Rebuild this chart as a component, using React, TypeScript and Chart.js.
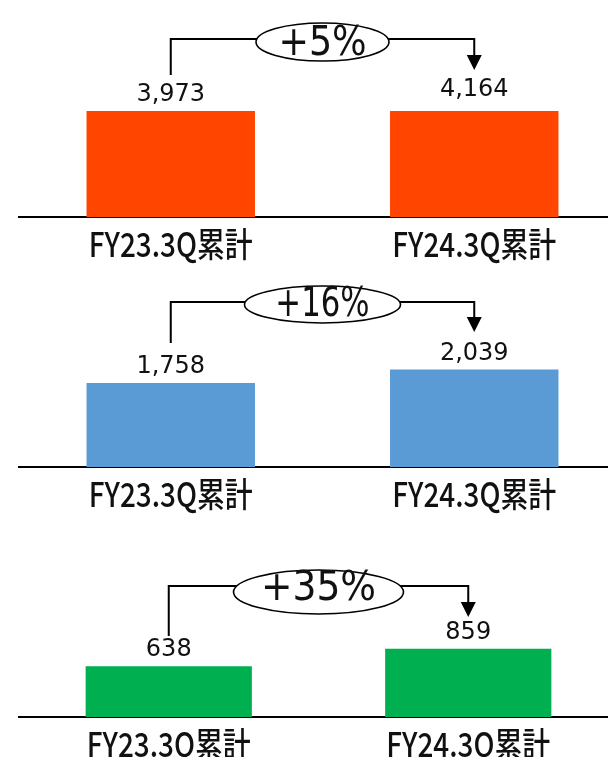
import { useEffect, useRef } from "react";
import { Chart, registerables } from "chart.js";

Chart.register(...registerables);

// Periods compared in every panel
const categories = ["FY23.3Q累計", "FY24.3Q累計"];

// Values per panel (top, middle, bottom)
const upperValues = [3973, 4164];
const middleValues = [1758, 2039];
const lowerValues = [638, 859];

// Year-on-year growth shown in the callout ovals
const growthLabels = ["+5%", "+16%", "+35%"];

// Value-axis ceilings; the top panel is cut at the first bar
const axisMaxima = [3973, 2218, 1332];

const barColors = ["#FF4500", "#5B9BD5", "#00B050"];

type Decor = {
  growth: string;
  bracketY: number;
  leftEnd: number;
  tipY: number;
  rx: number;
  ry: number;
  ellipseDy: number;
  textDy: number;
  textStretch: number;
};

// Draws value labels, category labels and the growth bracket with its oval
const growthDecor = {
  id: "growthDecor",
  afterDraw(chart: any, _args: any, opts: Decor) {
    const { ctx, chartArea } = chart;
    const meta = chart.getDatasetMeta(0);
    const yScale = chart.scales.y;
    const values = chart.data.datasets[0].data as number[];
    const xs: number[] = meta.data.map((b: any) => b.x);

    ctx.save();
    ctx.fillStyle = "#111";
    ctx.textAlign = "center";

    // value labels above each bar
    ctx.font = "24px 'DejaVu Sans'";
    ctx.textBaseline = "middle";
    values.forEach((v, i) => {
      ctx.fillText(v.toLocaleString("en-US"), xs[i], yScale.getPixelForValue(v) - 16);
    });

    // category labels under the baseline (narrow gothic look)
    ctx.font = "500 34px 'Noto Sans CJK JP'";
    (chart.data.labels as string[]).forEach((lab, i) => {
      ctx.save();
      ctx.translate(xs[i], chartArea.bottom + 27);
      ctx.scale(0.82, 1);
      ctx.fillText(lab, 0, 0);
      ctx.restore();
    });

    // bracket from the first bar to the second one
    const x0 = xs[0];
    const x1 = xs[1];
    const cx = (x0 + x1) / 2;
    ctx.strokeStyle = "#000";
    ctx.lineWidth = 2;
    ctx.lineJoin = "miter";
    ctx.lineCap = "butt";
    ctx.beginPath();
    ctx.moveTo(x0, opts.leftEnd);
    ctx.lineTo(x0, opts.bracketY);
    ctx.lineTo(x1, opts.bracketY);
    ctx.lineTo(x1, opts.tipY - 12);
    ctx.stroke();

    // arrow head
    ctx.fillStyle = "#000";
    ctx.beginPath();
    ctx.moveTo(x1 - 7.5, opts.tipY - 15);
    ctx.lineTo(x1 + 7.5, opts.tipY - 15);
    ctx.lineTo(x1, opts.tipY);
    ctx.closePath();
    ctx.fill();

    // oval with the growth rate
    ctx.beginPath();
    ctx.ellipse(cx, opts.bracketY + opts.ellipseDy, opts.rx, opts.ry, 0, 0, Math.PI * 2);
    ctx.fillStyle = "#fff";
    ctx.fill();
    ctx.lineWidth = 1.6;
    ctx.stroke();

    ctx.fillStyle = "#111";
    ctx.font = "40px 'DejaVu Sans'";
    ctx.textBaseline = "alphabetic";
    ctx.save();
    ctx.translate(cx, opts.bracketY + opts.textDy);
    ctx.scale(opts.textStretch, 1);
    ctx.fillText(opts.growth, 0, 0);
    ctx.restore();

    ctx.restore();
  },
};

type PanelSpec = {
  values: number[];
  color: string;
  max: number;
  top: number;
  height: number;
  padRight: number;
  padBottom: number;
  decor: Decor;
};

const panels: PanelSpec[] = [
  {
    values: upperValues,
    color: barColors[0],
    max: axisMaxima[0],
    top: 0,
    height: 280,
    padRight: 14,
    padBottom: 63,
    decor: {
      growth: growthLabels[0],
      bracketY: 39,
      leftEnd: 75,
      tipY: 70,
      rx: 66.5,
      ry: 19,
      ellipseDy: 3,
      textDy: 16,
      textStretch: 0.91,
    },
  },
  {
    values: middleValues,
    color: barColors[1],
    max: axisMaxima[1],
    top: 250,
    height: 280,
    padRight: 14,
    padBottom: 63,
    decor: {
      growth: growthLabels[1],
      bracketY: 52,
      leftEnd: 93,
      tipY: 82,
      rx: 78,
      ry: 18.5,
      ellipseDy: 2.5,
      textDy: 13.5,
      textStretch: 0.77,
    },
  },
  {
    values: lowerValues,
    color: barColors[2],
    max: axisMaxima[2],
    top: 500,
    height: 257,
    padRight: 22,
    padBottom: 40,
    decor: {
      growth: growthLabels[2],
      bracketY: 86,
      leftEnd: 136,
      tipY: 117,
      rx: 85,
      ry: 22,
      ellipseDy: 6,
      textDy: 14,
      textStretch: 0.94,
    },
  },
];

const CANVAS_WIDTH = 640;

function Panel({ spec }: { spec: PanelSpec }) {
  const ref = useRef<HTMLCanvasElement | null>(null);

  useEffect(() => {
    if (!ref.current) return;
    const chart = new Chart(ref.current, {
      type: "bar",
      data: {
        labels: categories,
        datasets: [
          {
            data: spec.values,
            backgroundColor: spec.color,
            borderWidth: 0,
            barPercentage: 0.555,
            categoryPercentage: 1,
          },
        ],
      },
      options: {
        responsive: false,
        animation: false,
        events: [],
        layout: {
          padding: { left: 19, right: spec.padRight, top: 111, bottom: spec.padBottom },
        },
        scales: {
          x: {
            grid: { display: false, drawTicks: false },
            ticks: { display: false },
            border: { display: true, color: "#000", width: 2 },
          },
          y: { display: false, min: 0, max: spec.max },
        },
        plugins: {
          legend: { display: false },
          tooltip: { enabled: false },
          growthDecor: spec.decor,
        } as any,
      },
      plugins: [growthDecor],
    });
    return () => chart.destroy();
  }, [spec]);

  return (
    <canvas
      ref={ref}
      width={CANVAS_WIDTH}
      height={spec.height}
      style={{ position: "absolute", left: 0, top: spec.top, display: "block" }}
    />
  );
}

export default function App() {
  return (
    <div
      style={{
        position: "absolute",
        left: 0,
        top: 0,
        width: 608,
        height: 757,
        overflow: "hidden",
        background: "#fff",
      }}
    >
      {panels.map((p, i) => (
        <Panel key={i} spec={p} />
      ))}
    </div>
  );
}
